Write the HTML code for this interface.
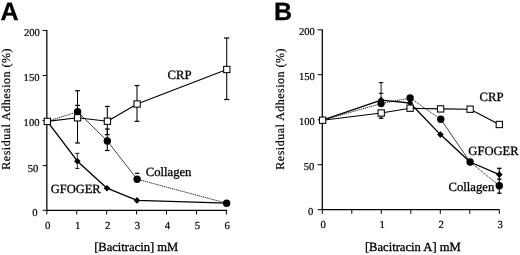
<!DOCTYPE html>
<html><head><meta charset="utf-8"><title>Figure</title>
<style>
html,body{margin:0;padding:0;background:#fff;}
body{width:520px;height:255px;overflow:hidden;font-family:"Liberation Serif",serif;}
svg{display:block;font-family:"Liberation Serif",serif;fill:#000;text-rendering:geometricPrecision;will-change:transform;opacity:0.999;}
text{stroke:#000;stroke-width:0.3px;}
text.t{stroke-width:0.2px;}
</style></head><body>
<svg width="520" height="255" viewBox="0 0 520 255">
<rect width="520" height="255" fill="#fff"/>
<text x="0.6" y="19.7" font-family="Liberation Sans, sans-serif" font-weight="bold" font-size="25" stroke="#000" stroke-width="0.5" fill="#000">A</text>
<text x="274.1" y="19.8" font-family="Liberation Sans, sans-serif" font-weight="bold" font-size="25" stroke="#000" stroke-width="0.5" fill="#000">B</text>
<path d="M46.85,30.0 V210.3 H227" stroke="#000" stroke-width="1.25" fill="none"/>
<path d="M42.6,30.5 H46.85" stroke="#000" stroke-width="1"/>
<text x="39.9" y="35.6" font-size="10.6" text-anchor="end"  class="t">200</text>
<path d="M42.6,75.5 H46.85" stroke="#000" stroke-width="1"/>
<text x="39.5" y="80.8" font-size="10.6" text-anchor="end"  class="t">150</text>
<path d="M42.6,120.5 H46.85" stroke="#000" stroke-width="1"/>
<text x="39.5" y="126.1" font-size="10.6" text-anchor="end"  class="t">100</text>
<path d="M42.6,165.6 H46.85" stroke="#000" stroke-width="1"/>
<text x="38.3" y="171.5" font-size="10.6" text-anchor="end"  class="t">50</text>
<path d="M42.6,210.3 H46.85" stroke="#000" stroke-width="1"/>
<text x="37.5" y="216.1" font-size="10.6" text-anchor="end"  class="t">0</text>
<path d="M46.85,210.3 v4.2" stroke="#000" stroke-width="1"/>
<text x="47.75" y="228.9" font-size="10.8" text-anchor="middle"  class="t">0</text>
<path d="M76.77,210.3 v4.2" stroke="#000" stroke-width="1"/>
<text x="77.67" y="228.9" font-size="10.8" text-anchor="middle"  class="t">1</text>
<path d="M106.69,210.3 v4.2" stroke="#000" stroke-width="1"/>
<text x="107.59" y="228.9" font-size="10.8" text-anchor="middle"  class="t">2</text>
<path d="M136.61,210.3 v4.2" stroke="#000" stroke-width="1"/>
<text x="137.51" y="228.9" font-size="10.8" text-anchor="middle"  class="t">3</text>
<path d="M166.53,210.3 v4.2" stroke="#000" stroke-width="1"/>
<text x="167.43" y="228.9" font-size="10.8" text-anchor="middle"  class="t">4</text>
<path d="M196.45,210.3 v4.2" stroke="#000" stroke-width="1"/>
<text x="197.35" y="228.9" font-size="10.8" text-anchor="middle"  class="t">5</text>
<path d="M226.37,210.3 v4.2" stroke="#000" stroke-width="1"/>
<text x="227.27" y="228.9" font-size="10.8" text-anchor="middle"  class="t">6</text>
<text x="94.2" y="250.9" font-size="12.55" text-anchor="start" >[Bacitracin] mM</text>
<text transform="translate(9.6,169.7) rotate(-90)" font-size="12" textLength="121.3" lengthAdjust="spacing" class="t">Residual Adhesion (%)</text>
<path d="M77.5,90.7 V143" stroke="#000" stroke-width="1.05" fill="none"/><path d="M75.1,90.7 h4.8" stroke="#000" stroke-width="1.2" fill="none"/><path d="M75.1,143 h4.8" stroke="#000" stroke-width="1.2" fill="none"/>
<path d="M75.1,105.4 h4.8" stroke="#000" stroke-width="1.25" fill="none"/>
<path d="M107.3,106.4 V134.6" stroke="#000" stroke-width="1.05" fill="none"/><path d="M104.89999999999999,106.4 h4.8" stroke="#000" stroke-width="1.2" fill="none"/><path d="M104.89999999999999,134.6 h4.8" stroke="#000" stroke-width="1.2" fill="none"/>
<path d="M107.3,129 V150.5" stroke="#000" stroke-width="1.05" fill="none"/><path d="M104.89999999999999,129 h4.8" stroke="#000" stroke-width="1.2" fill="none"/><path d="M104.89999999999999,150.5 h4.8" stroke="#000" stroke-width="1.2" fill="none"/>
<path d="M137,85.5 V121.3" stroke="#000" stroke-width="1.05" fill="none"/><path d="M134.6,85.5 h4.8" stroke="#000" stroke-width="1.2" fill="none"/><path d="M134.6,121.3 h4.8" stroke="#000" stroke-width="1.2" fill="none"/>
<path d="M226.7,38 V99.5" stroke="#000" stroke-width="1.05" fill="none"/><path d="M224.0,38 h5.4" stroke="#000" stroke-width="1.2" fill="none"/><path d="M224.0,99.5 h5.4" stroke="#000" stroke-width="1.2" fill="none"/>
<path d="M77.3,153.3 V168.4" stroke="#000" stroke-width="0.8" fill="none"/><path d="M75.3,153.3 h4.0" stroke="#000" stroke-width="0.9500000000000001" fill="none"/><path d="M75.3,168.4 h4.0" stroke="#000" stroke-width="0.9500000000000001" fill="none"/>
<path d="M135.1,173.3 h4.2" stroke="#000" stroke-width="1.25" fill="none"/>
<path d="M47.3,121.4 L77.6,111.8" stroke="#000" stroke-width="0.85" stroke-dasharray="1.25 0.75" fill="none"/><path d="M77.6,111.8 L107.3,141" stroke="#111" stroke-width="0.8" fill="none"/><path d="M107.3,141 L137.1,179.2" stroke="#111" stroke-width="0.8" fill="none"/><path d="M137.1,179.2 L226.6,203.2" stroke="#000" stroke-width="0.85" stroke-dasharray="1.25 0.75" fill="none"/>
<polyline points="47.3,121.4 77.4,161.2 107,188.2 137,200.4 226.6,203.2" fill="none" stroke="#000" stroke-width="1.35" stroke-linejoin="round" />
<polyline points="47.3,121.4 77.6,117.8 107.4,121.2 137.1,104 226.8,69.5" fill="none" stroke="#000" stroke-width="1.15" stroke-linejoin="round" />
<path d="M74.10,161.2 L77.4,157.90 L80.70,161.2 L77.4,164.50Z" fill="#000"/>
<path d="M103.70,188.2 L107,184.90 L110.30,188.2 L107,191.50Z" fill="#000"/>
<path d="M133.70,200.4 L137,197.10 L140.30,200.4 L137,203.70Z" fill="#000"/>
<circle cx="77.6" cy="111.8" r="3.7" fill="#000"/>
<circle cx="107.3" cy="141" r="3.7" fill="#000"/>
<circle cx="137.1" cy="179.2" r="3.7" fill="#000"/>
<circle cx="226.6" cy="203.2" r="3.7" fill="#000"/>
<rect x="44.15" y="118.25" width="6.3" height="6.3" fill="#fff" stroke="#000" stroke-width="1.05"/>
<rect x="74.45" y="114.65" width="6.3" height="6.3" fill="#fff" stroke="#000" stroke-width="1.05"/>
<rect x="104.25" y="118.05" width="6.3" height="6.3" fill="#fff" stroke="#000" stroke-width="1.05"/>
<rect x="133.95" y="100.85" width="6.3" height="6.3" fill="#fff" stroke="#000" stroke-width="1.05"/>
<rect x="223.65" y="66.35" width="6.3" height="6.3" fill="#fff" stroke="#000" stroke-width="1.05"/>
<text x="167.6" y="78.9" font-size="12.75" text-anchor="start" >CRP</text>
<text x="145.8" y="176" font-size="12.65" text-anchor="start" >Collagen</text>
<text x="50.7" y="192.5" font-size="12.5" text-anchor="start" >GFOGER</text>
<path d="M322.3,29.4 V209.7 H499.5" stroke="#000" stroke-width="1.25" fill="none"/>
<path d="M317.6,29.8 H322.3" stroke="#000" stroke-width="1"/>
<text x="314.9" y="34.9" font-size="10.6" text-anchor="end"  class="t">200</text>
<path d="M317.6,74.7 H322.3" stroke="#000" stroke-width="1"/>
<text x="314.9" y="79.9" font-size="10.6" text-anchor="end"  class="t">150</text>
<path d="M317.6,119.8 H322.3" stroke="#000" stroke-width="1"/>
<text x="314.9" y="124.5" font-size="10.6" text-anchor="end"  class="t">100</text>
<path d="M317.6,164.7 H322.3" stroke="#000" stroke-width="1"/>
<text x="314.4" y="170.3" font-size="10.6" text-anchor="end"  class="t">50</text>
<path d="M317.6,209.7 H322.3" stroke="#000" stroke-width="1"/>
<text x="313.3" y="215.1" font-size="10.6" text-anchor="end"  class="t">0</text>
<path d="M322.30,209.7 v4.1" stroke="#000" stroke-width="1"/>
<text x="323.2" y="228.0" font-size="10.8" text-anchor="middle"  class="t">0</text>
<path d="M351.80,209.7 v4.1" stroke="#000" stroke-width="1"/>
<path d="M381.30,209.7 v4.1" stroke="#000" stroke-width="1"/>
<text x="382.2" y="228.0" font-size="10.8" text-anchor="middle"  class="t">1</text>
<path d="M410.80,209.7 v4.1" stroke="#000" stroke-width="1"/>
<path d="M440.30,209.7 v4.1" stroke="#000" stroke-width="1"/>
<text x="441.2" y="228.0" font-size="10.8" text-anchor="middle"  class="t">2</text>
<path d="M469.80,209.7 v4.1" stroke="#000" stroke-width="1"/>
<path d="M499.30,209.7 v4.1" stroke="#000" stroke-width="1"/>
<text x="500.2" y="228.0" font-size="10.8" text-anchor="middle"  class="t">3</text>
<text x="364.9" y="251.0" font-size="12.6" text-anchor="start" >[Bacitracin A] mM</text>
<text transform="translate(284.1,169.7) rotate(-90)" font-size="12" textLength="121.3" lengthAdjust="spacing" class="t">Residual Adhesion (%)</text>
<path d="M381.1,82.6 V99" stroke="#000" stroke-width="0.9" fill="none"/><path d="M378.90000000000003,82.6 h4.4" stroke="#000" stroke-width="1.05" fill="none"/>
<path d="M378.90000000000003,93.3 h4.4" stroke="#000" stroke-width="1.1" fill="none"/>
<path d="M381.1,113 V118.2" stroke="#000" stroke-width="1.2" fill="none"/><path d="M378.8,118.2 h4.6" stroke="#000" stroke-width="1.3499999999999999" fill="none"/>
<path d="M499.3,168.3 V193.2" stroke="#000" stroke-width="1.1" fill="none"/><path d="M497.05,168.3 h4.5" stroke="#000" stroke-width="1.25" fill="none"/><path d="M497.05,193.2 h4.5" stroke="#000" stroke-width="1.25" fill="none"/>
<path d="M497.05,179.2 h4.5" stroke="#000" stroke-width="1.2" fill="none"/>
<path d="M322.6,120.2 L381.1,103.6" stroke="#000" stroke-width="0.85" stroke-dasharray="1.25 0.75" fill="none"/><path d="M381.1,103.6 L410.1,98" stroke="#000" stroke-width="0.85" stroke-dasharray="1.25 0.75" fill="none"/><path d="M410.1,98 L440.8,119.3" stroke="#000" stroke-width="0.85" stroke-dasharray="1.25 0.75" fill="none"/><path d="M440.8,119.3 L470.1,162" stroke="#111" stroke-width="0.8" fill="none"/><path d="M470.1,162 L499.3,185.7" stroke="#000" stroke-width="0.85" stroke-dasharray="1.25 0.75" fill="none"/>
<polyline points="322.6,120.2 381.1,100.1 410.1,103 440.4,134.6 470.1,162 499.3,174.6" fill="none" stroke="#000" stroke-width="1.35" stroke-linejoin="round" />
<polyline points="322.6,120.2 381.2,113 410.1,108.2 440.6,108.9 470.1,109.2 499.3,124.5" fill="none" stroke="#000" stroke-width="1.15" stroke-linejoin="round" />
<path d="M377.80,100.1 L381.1,96.80 L384.40,100.1 L381.1,103.40Z" fill="#000"/>
<path d="M406.80,103 L410.1,99.70 L413.40,103 L410.1,106.30Z" fill="#000"/>
<path d="M437.10,134.6 L440.4,131.30 L443.70,134.6 L440.4,137.90Z" fill="#000"/>
<path d="M466.80,162 L470.1,158.70 L473.40,162 L470.1,165.30Z" fill="#000"/>
<path d="M496.00,174.6 L499.3,171.30 L502.60,174.6 L499.3,177.90Z" fill="#000"/>
<circle cx="381.1" cy="103.6" r="3.7" fill="#000"/>
<circle cx="410.1" cy="98" r="3.7" fill="#000"/>
<circle cx="440.8" cy="119.3" r="3.7" fill="#000"/>
<circle cx="470.1" cy="162" r="3.7" fill="#000"/>
<circle cx="499.3" cy="185.7" r="3.7" fill="#000"/>
<rect x="319.45" y="117.05" width="6.3" height="6.3" fill="#fff" stroke="#000" stroke-width="1.05"/>
<rect x="378.05" y="109.85" width="6.3" height="6.3" fill="#fff" stroke="#000" stroke-width="1.05"/>
<rect x="406.95" y="105.05" width="6.3" height="6.3" fill="#fff" stroke="#000" stroke-width="1.05"/>
<rect x="437.45" y="105.75" width="6.3" height="6.3" fill="#fff" stroke="#000" stroke-width="1.05"/>
<rect x="466.95" y="106.05" width="6.3" height="6.3" fill="#fff" stroke="#000" stroke-width="1.05"/>
<rect x="496.15" y="121.35" width="6.3" height="6.3" fill="#fff" stroke="#000" stroke-width="1.05"/>
<text x="479.5" y="101.3" font-size="12.75" text-anchor="start" >CRP</text>
<text x="468.3" y="155.2" font-size="12.6" text-anchor="start" >GFOGER</text>
<text x="448.6" y="191" font-size="12.65" text-anchor="start" >Collagen</text>
</svg>
</body></html>
